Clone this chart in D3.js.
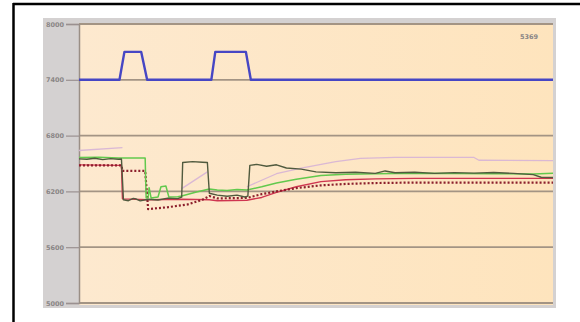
<!DOCTYPE html>
<html>
<head>
<meta charset="utf-8">
<script src="https://cdn.jsdelivr.net/npm/d3@7"></script>
<style>
  html, body { margin: 0; padding: 0; background: #fff; }
  svg { display: block; }
</style>
</head>
<body>
<svg id="chart" width="580" height="322"></svg>
<script>
// Y axis ticks
const yTicks = [5000, 5600, 6200, 6800, 7400, 8000];
const cornerLabel = "5369";

// Series: [minute, value]
const setpoint = [[0,7400],[41,7400],[46,7700],[63,7700],[69,7400],[134,7400],[138,7700],[169,7700],[174,7400],[480,7400]];

const measured = [[0,6550],[8,6545],[16,6556],[24,6542],[32,6552],[40,6546],[43,6548],[45,6110],[50,6100],[55,6125],[58,6118],[62,6098],[70,6115],[80,6108],[90,6128],[100,6122],[104,6138],[105,6510],[115,6520],[125,6514],[130,6510],[132,6180],[140,6160],[150,6148],[160,6160],[168,6140],[171,6150],[173,6480],[180,6490],[190,6470],[200,6486],[210,6452],[225,6440],[240,6410],[260,6400],[280,6406],[300,6394],[310,6420],[320,6400],[340,6406],[360,6394],[380,6402],[400,6396],[420,6404],[440,6394],[460,6380],[468,6352],[480,6350]];

const model = [[0,6565],[20,6568],[40,6560],[67,6560],[68,6130],[70,6132],[71,6240],[73,6130],[80,6140],[83,6250],[88,6258],[91,6140],[100,6142],[104,6150],[118,6190],[132,6225],[140,6215],[150,6210],[160,6220],[170,6215],[185,6250],[200,6290],[220,6330],[245,6370],[270,6385],[300,6390],[340,6396],[380,6392],[420,6390],[460,6388],[480,6395]];

const target = [[0,6480],[43,6480],[44,6420],[67,6420],[70,6010],[90,6030],[110,6060],[125,6110],[132,6150],[140,6125],[170,6130],[185,6170],[200,6200],[220,6235],[245,6265],[270,6280],[300,6290],[340,6295],[480,6295]];

const filtered = [[0,6485],[43,6480],[44,6120],[70,6110],[104,6115],[132,6110],[140,6100],[170,6105],[185,6135],[200,6190],[220,6250],[245,6305],[270,6325],[300,6335],[340,6340],[400,6340],[480,6340]];

const upperLimit = [[0,6640],[44,6670],[44,null],[104,null],[104,6230],[130,6410],[130,null],[170,null],[170,6250],[200,6390],[225,6450],[260,6520],[285,6555],[320,6565],[400,6565],[405,6535],[480,6530]];

const svg = d3.select("#chart");

// frame edges
svg.append("line").attr("x1", 13.5).attr("x2", 13.5).attr("y1", 3).attr("y2", 322)
  .attr("stroke", "#000").attr("stroke-width", 2.5);
svg.append("line").attr("x1", 13).attr("x2", 580).attr("y1", 4).attr("y2", 4)
  .attr("stroke", "#000").attr("stroke-width", 2.5);

// panel
svg.append("rect").attr("x", 43).attr("y", 18).attr("width", 513).attr("height", 290)
  .attr("fill", "#d4d1d1");

const x = d3.scaleLinear().domain([0, 480]).range([79, 553]);
const y = d3.scaleLinear().domain([5000, 8000]).range([303, 24]);

const defs = svg.append("defs");
const grad = defs.append("linearGradient").attr("id", "bg").attr("x1", "0").attr("x2", "1");
grad.append("stop").attr("offset", "0").attr("stop-color", "#fde9cf");
grad.append("stop").attr("offset", "1").attr("stop-color", "#fee4bd");

svg.append("rect").attr("x", x(0)).attr("y", y(8000)).attr("width", x(480) - x(0))
  .attr("height", y(5000) - y(8000) + 2).attr("fill", "url(#bg)");

// grid
svg.append("g").selectAll("line").data(yTicks).join("line")
  .attr("x1", x(0)).attr("x2", x(480))
  .attr("y1", d => y(d)).attr("y2", d => y(d))
  .attr("stroke", "#a39484").attr("stroke-width", 1.8);

// axis
const axis = d3.axisLeft(y).tickValues(yTicks).tickSize(13).tickPadding(2).tickFormat(d3.format("d"));
const ag = svg.append("g").attr("transform", `translate(${x(0)},0)`).call(axis);
ag.select(".domain").attr("stroke", "#9a8f86").attr("stroke-width", 1.5);
ag.selectAll(".tick line").attr("stroke", "#9a9090").attr("stroke-width", 1.2);
ag.selectAll(".tick text").attr("fill", "#8a8686").attr("font-family", "DejaVu Sans")
  .attr("font-size", 6.5).attr("font-weight", "bold");

const line = d3.line().defined(d => d[1] !== null).x(d => x(d[0])).y(d => y(d[1]));

function draw(data, color, width, dash, opacity) {
  svg.append("path").datum(data).attr("d", line)
    .attr("fill", "none").attr("stroke", color).attr("stroke-width", width)
    .attr("stroke-dasharray", dash || null).attr("stroke-opacity", opacity || 1)
    .attr("stroke-linejoin", "round");
}

draw(upperLimit, "#d6b3d6", 1.3, null, 0.9);
draw(filtered, "#cf3550", 1.4);
draw(target, "#8c1f2c", 2.2, "2,2");
draw(model, "#62c94d", 1.5);
draw(measured, "#505a3e", 1.4);
draw(setpoint, "#4646c4", 2.4);

svg.append("text").attr("x", 538).attr("y", 39).attr("text-anchor", "end")
  .attr("font-family", "DejaVu Sans").attr("font-size", 6.5).attr("font-weight", "bold")
  .attr("fill", "#8a8686").text(cornerLabel);
</script>
</body>
</html>
